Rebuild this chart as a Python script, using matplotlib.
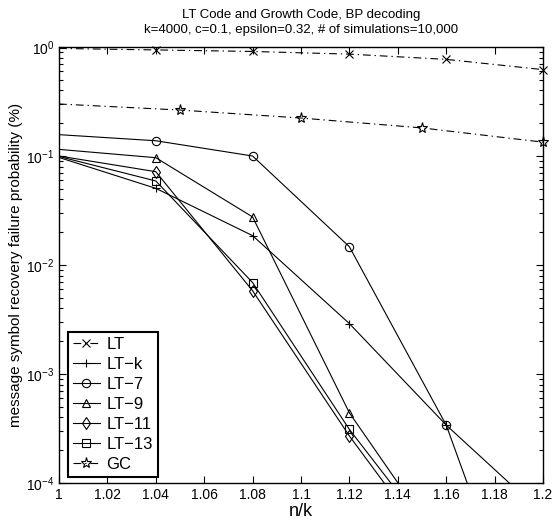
import matplotlib
matplotlib.use("Agg")
import matplotlib.pyplot as plt
from matplotlib.ticker import FixedLocator, LogLocator, NullFormatter

plt.rcParams['font.family'] = ['Liberation Sans', 'DejaVu Sans']
plt.rcParams['mathtext.fontset'] = 'custom'
plt.rcParams['mathtext.rm'] = 'Liberation Sans'

x_main = [1.0, 1.04, 1.08, 1.12, 1.16, 1.2]
x_gc = [1.0, 1.05, 1.1, 1.15, 1.2]

lt = [0.97, 0.94, 0.91, 0.86, 0.77, 0.62]
lt_k = [0.097, 0.0505, 0.0186, 0.0029, 0.00034, 0.000052]
lt_7 = [0.157, 0.138, 0.100, 0.0147, 0.00034, 0.0000012]
lt_9 = [0.115, 0.0965, 0.0276, 0.00044, 0.000023, 0.000001]
lt_11 = [0.100, 0.0718, 0.0058, 0.00027, 0.000017, 0.000001]
lt_13 = [0.099, 0.059, 0.0069, 0.00031, 0.000022, 0.000001]
gc = [0.30, 0.264, 0.223, 0.181, 0.134]

xticks = [1.0, 1.02, 1.04, 1.06, 1.08, 1.1, 1.12, 1.14, 1.16, 1.18, 1.2]
xticklabels = ['1', '1.02', '1.04', '1.06', '1.08', '1.1', '1.12', '1.14', '1.16', '1.18', '1.2']

fig = plt.figure(figsize=(5.54, 5.20), dpi=100)
ax = fig.add_axes([59/554, 1 - 483/520, (543 - 59)/554, (483 - 47)/520])

lw = 0.8
ms = 6
dashdot = (0, (7, 3.5, 1.2, 3.5))
common = dict(color='black', linewidth=lw, markersize=ms, markerfacecolor='none',
              markeredgecolor='black', markeredgewidth=0.8)
skip_first_main = list(range(1, len(x_main)))
skip_first_gc = list(range(1, len(x_gc)))

ax.semilogy(x_main, lt, linestyle=dashdot, marker='x', label='LT',
            markevery=skip_first_main, clip_on=False, **common)
ax.semilogy(x_main, lt_k, linestyle='-', marker='+', label='LT\u2212k',
            markevery=skip_first_main, **common)
ax.semilogy(x_main, lt_7, linestyle='-', marker='o', label='LT\u22127',
            markevery=skip_first_main, **common)
ax.semilogy(x_main, lt_9, linestyle='-', marker='^', label='LT\u22129',
            markevery=skip_first_main, **common)
ax.semilogy(x_main, lt_11, linestyle='-', marker='d', label='LT\u221211',
            markevery=skip_first_main, **common)
ax.semilogy(x_main, lt_13, linestyle='-', marker='s', label='LT\u221213',
            markevery=skip_first_main, **common)
ax.semilogy(x_gc, gc, linestyle=dashdot, marker='*', label='GC',
            markevery=skip_first_gc, clip_on=False,
            **{**common, 'markersize': 8})

ax.set_xlim(1.0, 1.2)
ax.set_ylim(1e-4, 1e0)
ax.xaxis.set_major_locator(FixedLocator(xticks))
ax.set_xticklabels(xticklabels)
ax.yaxis.set_major_locator(LogLocator(base=10, numticks=10))
ax.yaxis.set_minor_locator(LogLocator(base=10, subs=range(2, 10), numticks=20))
ax.yaxis.set_minor_formatter(NullFormatter())

ax.tick_params(which='both', direction='in', top=True, right=True, labelsize=10, width=0.8)
ax.tick_params(which='major', length=5)
ax.tick_params(which='minor', length=3)
for s in ax.spines.values():
    s.set_linewidth(1.0)

ax.set_xlabel('n/k', fontsize=13, labelpad=1)
ax.set_ylabel('message symbol recovery failure probability (%)', fontsize=11, labelpad=2)
ax.set_title('LT Code and Growth Code, BP decoding\nk=4000, c=0.1, epsilon=0.32, # of simulations=10,000',
             fontsize=9.5, pad=10, linespacing=1.35)

leg = ax.legend(loc='lower left', bbox_to_anchor=(9/484, 6/436), borderaxespad=0,
                fancybox=False, edgecolor='black', framealpha=1, fontsize=12,
                handlelength=1.6, handletextpad=0.4, labelspacing=0.3,
                borderpad=0.3)
leg.get_frame().set_linewidth(1.5)

fig.savefig('out.png', dpi=100)
